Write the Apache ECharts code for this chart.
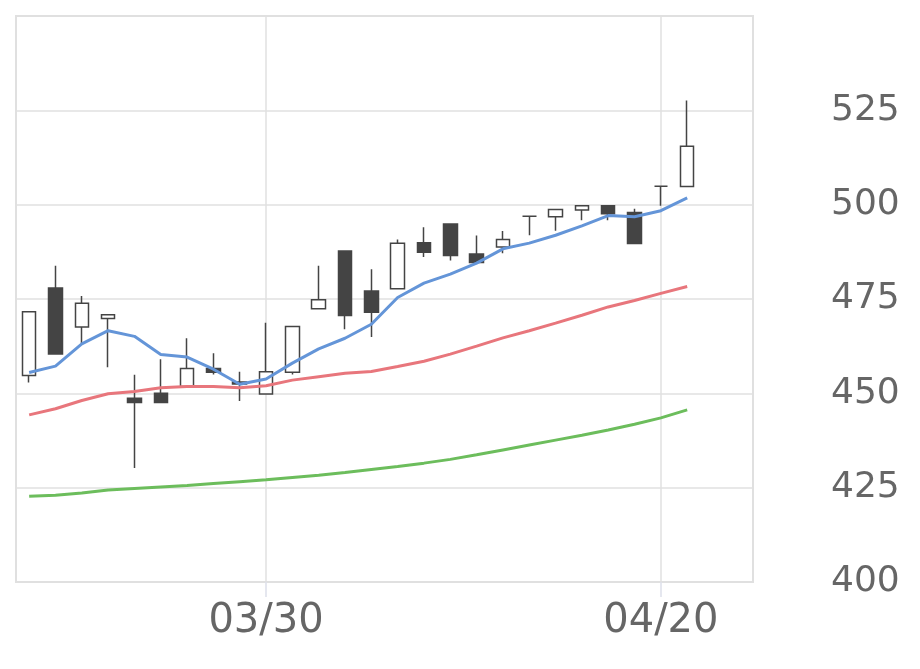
<!DOCTYPE html>
<html>
<head>
<meta charset="utf-8">
<script src="https://cdn.jsdelivr.net/npm/echarts@6/dist/echarts.min.js"></script>
<style>
  html, body { margin: 0; padding: 0; background: #fff; }
  #chart { width: 920px; height: 669px; }
</style>
</head>
<body>
<div id="chart"></div>
<script>
// trading days, last two are empty slots
var dates = ['03/16', '03/17', '03/18', '03/19', '03/23', '03/24', '03/25', '03/26', '03/27',
  '03/30', '03/31', '04/01', '04/02', '04/03', '04/06', '04/07', '04/08', '04/09', '04/10',
  '04/13', '04/14', '04/15', '04/16', '04/17', '04/20', '04/21', '04/22', '04/23']
var shownDates = ['03/30', '04/20']

var opens = [454.7, 477.9, 467.6, 469.8, 448.7, 450.0, 451.8, 456.6, 453.0, 449.8,
  455.6, 472.4, 487.7, 477.1, 477.7, 489.9, 494.9, 486.9, 488.8, 496.9,
  496.8, 498.6, 499.7, 497.9, 504.9, 504.8]
var closes = [471.6, 460.4, 473.9, 470.8, 447.6, 447.6, 456.6, 455.6, 452.5, 455.7,
  467.7, 474.8, 470.6, 471.5, 489.8, 487.4, 486.5, 484.7, 490.8, 496.9,
  498.7, 499.7, 497.6, 489.7, 504.9, 515.5]
var lows = [452.9, 460.4, 463.3, 456.9, 430.2, 447.6, 451.8, 455.0, 448.0, 449.8,
  455.0, 472.4, 467.0, 464.9, 477.7, 486.1, 485.2, 484.7, 487.1, 491.9,
  493.1, 495.9, 495.9, 489.7, 499.7, 504.8]
var highs = [471.6, 483.8, 475.8, 470.8, 454.9, 459.0, 464.6, 460.6, 455.7, 468.7,
  467.7, 483.8, 487.7, 482.9, 490.8, 494.0, 494.9, 491.8, 493.0, 496.9,
  498.7, 499.7, 499.7, 498.9, 504.9, 527.6]

var ma5 = [455.5, 457.2, 463.1, 466.6, 465.1, 460.3, 459.6, 456.4, 452.4, 453.8,
  458.0, 461.8, 464.6, 468.3, 475.4, 479.2, 481.6, 484.5, 488.3, 489.8,
  491.9, 494.4, 497.1, 496.8, 498.4, 501.8]
var ma25 = [444.3, 445.9, 448.1, 449.9, 450.5, 451.5, 451.8, 451.8, 451.5, 452.0,
  453.5, 454.4, 455.3, 455.8, 457.1, 458.5, 460.4, 462.5, 464.7, 466.6,
  468.6, 470.7, 472.9, 474.6, 476.5, 478.3]
var ma75 = [422.7, 423.0, 423.6, 424.4, 424.8, 425.2, 425.6, 426.1, 426.6, 427.1,
  427.7, 428.3, 429.0, 429.8, 430.6, 431.5, 432.5, 433.7, 435.0, 436.3,
  437.6, 438.9, 440.3, 441.8, 443.5, 445.6]

var candles = opens.map(function(o, i) {
  return [o, closes[i], lows[i], highs[i]]
})

function isShown(idx) {
  return shownDates.indexOf(dates[idx]) >= 0
}

var chart = echarts.init(document.getElementById('chart'))
chart.setOption({
  animation: false,
  grid: {
    left: 16,
    top: 16,
    right: 167,
    bottom: 87,
    show: true,
    borderColor: '#e0e0e0',
    borderWidth: 2
  },
  xAxis: {
    type: 'category',
    data: dates,
    boundaryGap: true,
    axisLine: { show: true, lineStyle: { color: 'rgba(0,0,0,0)' } },
    axisTick: {
      show: true,
      alignWithLabel: true,
      interval: isShown,
      length: 15,
      lineStyle: { color: '#dde0ea', width: 1.5 }
    },
    axisLabel: {
      interval: isShown,
      margin: 20,
      color: '#666',
      fontSize: 40,
      fontFamily: 'DejaVu Sans'
    },
    splitLine: { show: false }
  },
  yAxis: {
    type: 'value',
    position: 'right',
    min: 400,
    max: 550,
    interval: 25,
    axisLine: { show: false },
    axisTick: { show: false },
    axisLabel: {
      showMaxLabel: false,
      margin: 78,
      color: '#666',
      fontSize: 36,
      fontFamily: 'DejaVu Sans'
    },
    splitLine: {
      lineStyle: { color: '#e0e0e0', width: 1.5 }
    }
  },
  series: [
    {
      // vertical grid lines through the labelled days
      type: 'line',
      z: 0,
      data: [],
      markLine: {
        z: 1,
        silent: true,
        symbol: 'none',
        label: { show: false },
        lineStyle: { color: '#e0e0e0', width: 1.5, type: 'solid' },
        data: shownDates.map(function(d) { return { xAxis: d } })
      }
    },
    {
      type: 'candlestick',
      z: 3,
      data: candles,
      barWidth: 14,
      itemStyle: {
        color: '#fff',
        color0: '#444',
        borderColor: '#444',
        borderColor0: '#444',
        borderWidth: 1.5
      }
    },
    {
      type: 'line',
      z: 4,
      data: ma75,
      symbol: 'none',
      lineStyle: { color: '#6cbd5c', width: 3 }
    },
    {
      type: 'line',
      z: 4,
      data: ma25,
      symbol: 'none',
      lineStyle: { color: '#e8767c', width: 3 }
    },
    {
      type: 'line',
      z: 4,
      data: ma5,
      symbol: 'none',
      lineStyle: { color: '#6495d8', width: 3 }
    }
  ]
})
</script>
</body>
</html>
